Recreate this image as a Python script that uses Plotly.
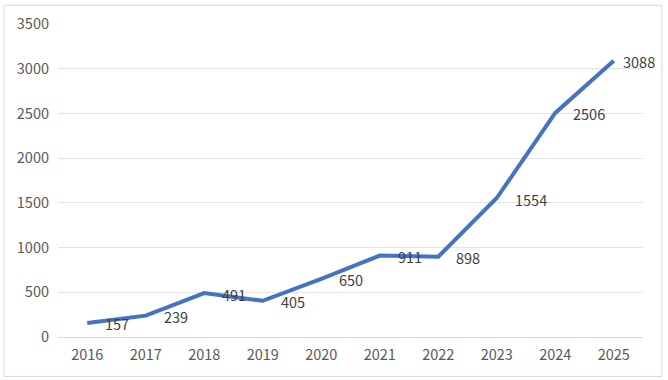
import plotly.graph_objects as go

years = ["2016", "2017", "2018", "2019", "2020", "2021", "2022", "2023", "2024", "2025"]
values = [157, 239, 491, 405, 650, 911, 898, 1554, 2506, 3088]
y_ticks = [0, 500, 1000, 1500, 2000, 2500, 3000, 3500]

# label horizontal offsets (style)
label_xshift = [16, 16, 16, 16, 16, 16, 16, 16, 16, 7]

FONT = "Noto Sans CJK SC, Open Sans, sans-serif"

fig = go.Figure()
fig.add_trace(go.Scatter(
    x=years, y=values, mode="lines",
    line=dict(color="#4472C4", width=4),
    hoverinfo="skip",
))

for i, v in enumerate(values):
    fig.add_annotation(
        x=i, y=v, text=str(v), showarrow=False,
        xanchor="left", yanchor="middle", xshift=label_xshift[i], yshift=-1,
        font=dict(family=FONT, size=14.5, color="#404040"),
    )

fig.update_layout(
    width=668, height=380,
    margin=dict(l=58, r=25, t=20, b=43),
    paper_bgcolor="white", plot_bgcolor="white",
    showlegend=False,
    font=dict(family=FONT, size=14.5, color="#595959"),
    shapes=[dict(type="rect", xref="paper", yref="paper",
                 x0=-0.0923, x1=1.0325, y0=-0.126, y1=1.06,
                 line=dict(color="#d9d9d9", width=1))],
)
fig.update_xaxes(
    type="category", range=[-0.5, 9.5], showgrid=False, showline=True,
    linecolor="#d9d9d9", linewidth=1, ticks="", ticklabelstandoff=5,
    tickfont=dict(family=FONT, size=14.5, color="#595959"),
)
fig.update_yaxes(
    range=[0, 3500], tickvals=y_ticks, showgrid=True, gridcolor="#e3e3e3",
    gridwidth=1, zeroline=False, showline=False, ticks="", ticklabelstandoff=8,
    tickfont=dict(family=FONT, size=14.5, color="#595959"),
)

fig.write_html("out.html", config={"displayModeBar": False})

with open("out.html", "r", encoding="utf-8") as f:
    html = f.read()
html = html.replace("<body>", '<body style="margin:0;padding:0;overflow:hidden">', 1)
with open("out.html", "w", encoding="utf-8") as f:
    f.write(html)
